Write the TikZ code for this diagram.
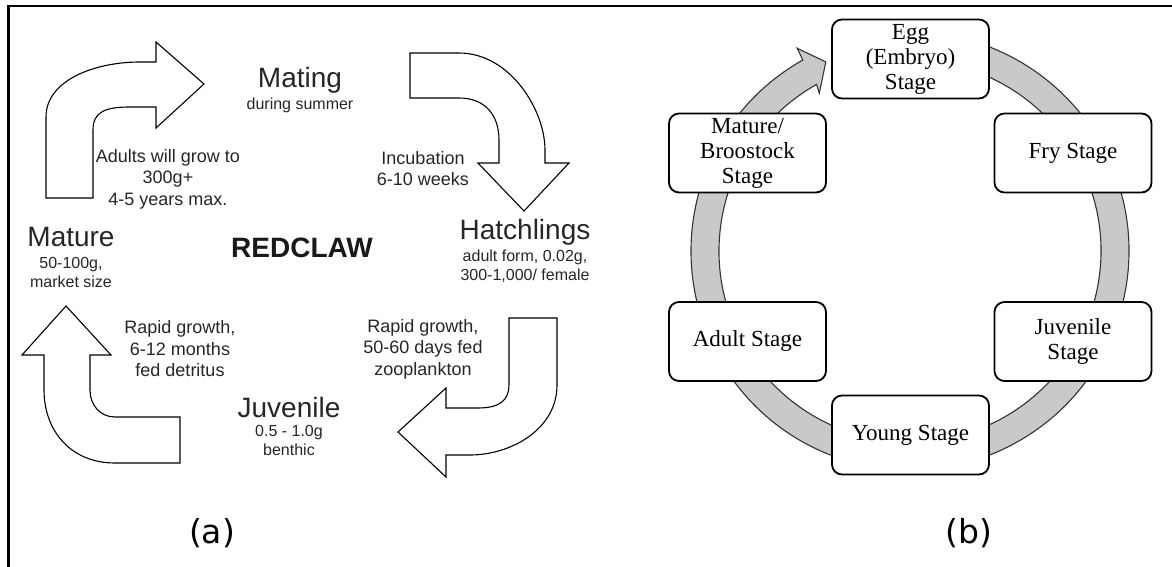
\documentclass[tikz,border=0pt]{standalone}
\usepackage{fontspec}
\setmainfont{Liberation Sans}
\newfontfamily\stagefont{Liberation Serif}
\newfontfamily\labfont{DejaVu Sans}
\begin{document}
\begin{tikzpicture}[x=1pt,y=-1pt,
  bigtxt/.style={font=\fontsize{28}{32}\selectfont, inner sep=0pt, text=black!85},
  boldtxt/.style={font=\bfseries\fontsize{28}{32}\selectfont, inner sep=0pt, text=black!90},
  midtxt/.style={font=\fontsize{18}{21.5}\selectfont, align=center, inner sep=0pt, text=black!85},
  smalltxt/.style={font=\fontsize{16}{18.5}\selectfont, align=center, inner sep=0pt, text=black!85},
  labtxt/.style={font=\labfont\fontsize{33}{38}\selectfont, inner sep=0pt},
  bigarrow/.style={draw=black, line width=1.1pt, fill=white, line join=miter},
  stagebox/.style={draw, line width=1.8pt, rounded corners=10pt, fill=white,
    minimum width=157pt, minimum height=79pt, align=center, inner sep=0pt,
    font=\stagefont\fontsize{23}{25}\selectfont},
  ringstyle/.style={fill=black!21, draw=black!80, line width=1.1pt}
]
\useasboundingbox (0,0) rectangle (1172,567);
% frame
\draw[line width=2.5pt] (8.5,567) -- (8.5,6) -- (1172,6);

% ----- panel (a) arrows
\draw[bigarrow] (46,198) -- (46,117) .. controls (46,80) and (95,62) .. (140,62)
  -- (156,62) -- (156,42) -- (204,84) -- (156,128) -- (156,107) -- (130,107)
  .. controls (105,107) and (93,112) .. (93,130) -- (93,198) -- cycle;
\draw[bigarrow] (410,53) -- (459,53) .. controls (510,53) and (545,110) .. (545,150)
  -- (545,163) -- (569,163) -- (524,211) -- (478,163) -- (499,163) -- (499,140)
  .. controls (499,115) and (485,98) .. (459,98) -- (410,98) -- cycle;
\draw[bigarrow] (509,318) -- (557,318) -- (557,385) .. controls (557,430) and (510,455) .. (470,455)
  -- (446,455) -- (446,477) -- (398,432) -- (446,388) -- (446,408) -- (478,408)
  .. controls (500,408) and (509,400) .. (509,385) -- cycle;
\draw[bigarrow] (180,417) -- (180,463) -- (115,463) .. controls (70,463) and (44,430) .. (44,390)
  -- (44,355) -- (22,355) -- (66,306) -- (111,355) -- (90,355) -- (90,390)
  .. controls (90,405) and (100,417) .. (115,417) -- cycle;

% ----- panel (a) texts
\node[bigtxt] (mating) at (300,80) {Mating};
\node[smalltxt] (matingsub) at (300,105) {during summer};
\node[midtxt] (adults) at (168,179) {Adults will grow to\\300g+\\4-5 years max.};
\node[midtxt] (incub) at (423,168.5) {Incubation\\6-10 weeks};
\node[bigtxt] (mature) at (71,237) {Mature};
\node[smalltxt] (maturesub) at (71,272.5) {50-100g,\\market size};
\node[boldtxt] (redclaw) at (302,248) {REDCLAW};
\node[bigtxt] (hatch) at (525,232) {Hatchlings};
\node[smalltxt] (hatchsub) at (525,266) {adult form, 0.02g,\\300-1,000/ female};
\node[midtxt] (rapidA) at (180,349) {Rapid growth,\\6-12 months\\fed detritus};
\node[midtxt] (rapidB) at (423,349) {Rapid growth,\\50-60 days fed\\zooplankton};
\node[bigtxt] (juv) at (289,407) {Juvenile};
\node[smalltxt] (juvsub) at (289,440.5) {0.5 - 1.0g\\benthic};
\node[labtxt] (labA) at (212,533) {(a)};

% ----- panel (b) ring
\begin{scope}[shift={(910,251)}]
\draw[ringstyle] (119.3:219pt) arc[start angle=119.3, end angle=440, radius=219pt]
  -- (440:191pt) arc[start angle=440, end angle=119.3, radius=191pt]
  -- (119.9:182pt) -- (114:207pt) -- (119.1:232pt) -- cycle;
\end{scope}

% ----- panel (b) boxes
\node[stagebox] (egg) at (910.5,59) {Egg\\(Embryo)\\Stage};
\node[stagebox] (broo) at (747.5,153) {Mature/\\Broostock\\Stage};
\node[stagebox] (fry) at (1073,153) {Fry Stage};
\node[stagebox] (adult) at (747.5,341.5) {Adult Stage};
\node[stagebox] (juvst) at (1073,341.5) {Juvenile\\Stage};
\node[stagebox] (young) at (910.5,435) {Young Stage};
\node[labtxt] (labB) at (969,533) {(b)};
\end{tikzpicture}
\end{document}
